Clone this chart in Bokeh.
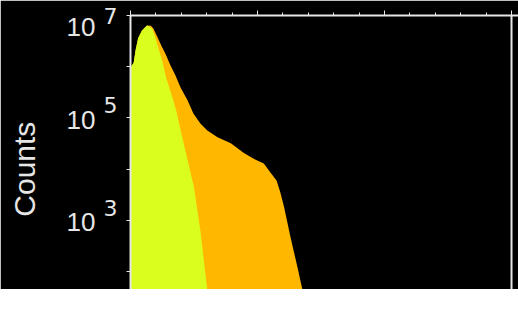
from bokeh.plotting import figure
from bokeh.models import Range1d, FixedTicker, LogAxis, Span
from bokeh.embed import file_html
from bokeh.resources import INLINE

# Channel positions and counts for the two spectra
channel_yellow = [0, 2.5, 4, 6, 9, 13, 17, 20, 22, 25, 28, 33, 36, 39.5, 45, 50, 55, 60.5, 66]
counts_yellow = [9.7e5, 1.2e6, 2.1e6, 3.6e6, 5.1e6, 6.4e6, 5.6e6, 3.4e6, 2.3e6, 1.3e6,
                 6.2e5, 2.5e5, 1.4e5, 5.7e4, 1.5e4, 4.4e3, 640, 43, 2]

channel_orange = [0, 2.5, 4, 6, 9, 13, 16, 18, 21, 24.5, 27.5, 31.5, 35.5, 39.5, 45, 49.5,
                  55, 60.5, 68.5, 79, 89, 97, 105, 110, 115, 118, 121, 126, 131.5, 135.5,
                  142, 148]
counts_orange = [9.7e5, 1.2e6, 2.1e6, 3.6e6, 5.1e6, 6.4e6, 6.3e6, 5.6e6, 3.9e6, 2.5e6,
                 1.8e6, 1.06e6, 6.7e5, 3.9e5, 2.2e5, 1.22e5, 7.8e4, 5.7e4, 4.2e4, 3.2e4,
                 2.1e4, 1.6e4, 1.3e4, 8.7e3, 6.0e3, 3.5e3, 1.8e3, 470, 121, 43, 7, 1]

x_major = [0, 100, 200, 300]
decades = [1e1, 1e2, 1e3, 1e4, 1e5, 1e6, 1e7]
labelled_decades = [1e7, 1e5, 1e3]
exponents = ["7", "5", "3"]
axis_title = "Counts\u00a0\u00a0\u00a0\u00a0"

AX = "#e6e6e6"
FONT = "Liberation Sans"
PX_PER_DECADE = 51.25


def shifted(value, px):
    """Value that sits px pixels below `value` on the log axis (3 significant figures)."""
    v = value * 10 ** (-px / PX_PER_DECADE)
    return float(f"{v:.3g}")


# label anchors: exponents raised above their ticks, bases near the ticks
# (the top base pushed down to stay on the canvas)
exp_anchor = [shifted(d, 0 if d == 1e7 else -13) for d in labelled_decades]
base_anchor = [shifted(d, 11 if d == 1e7 else 2) for d in labelled_decades]

p = figure(width=518, height=289, y_axis_type="log",
           x_range=Range1d(0, 305.5), y_range=Range1d(45, 1e7),
           x_axis_location="above", output_backend="svg", toolbar_location=None,
           min_border_left=130, min_border_right=0, min_border_top=15,
           min_border_bottom=0, background_fill_color="black",
           border_fill_color="black", outline_line_color=None)
p.grid.visible = False

# spectra: orange behind, yellow in front
p.varea(x=channel_orange, y1=[1] * len(channel_orange), y2=counts_orange,
        fill_color="#FFB700")
p.varea(x=channel_yellow, y1=[1] * len(channel_yellow), y2=counts_yellow,
        fill_color="#DAFF1F")

# top axis: ticks only
xa = p.xaxis[0]
xa.ticker = FixedTicker(ticks=x_major, minor_ticks=[20 * i for i in range(16)])
xa.axis_line_color = AX
xa.axis_line_width = 2
xa.major_tick_line_color = AX
xa.minor_tick_line_color = AX
xa.major_tick_in = 0
xa.major_tick_out = 5
xa.minor_tick_in = 0
xa.minor_tick_out = 3
xa.major_label_overrides = {v: "" for v in x_major}
xa.major_label_standoff = 0

# left axis line with a tick at every decade
ya = p.yaxis[0]
ya.ticker = FixedTicker(ticks=decades, minor_ticks=[])
ya.axis_line_color = AX
ya.axis_line_width = 2
ya.major_tick_line_color = AX
ya.major_tick_in = 0
ya.major_tick_out = 4
ya.major_label_overrides = {v: "" for v in decades}
ya.major_label_standoff = 0


def label_axis(anchors, texts, font, size, standoff):
    ax = LogAxis(ticker=FixedTicker(ticks=anchors, minor_ticks=[]))
    ax.axis_line_color = None
    ax.major_tick_line_color = None
    ax.major_tick_in = 0
    ax.major_tick_out = 0
    ax.major_label_overrides = dict(zip(anchors, texts))
    ax.major_label_standoff = standoff
    ax.major_label_text_font = font
    ax.major_label_text_font_size = size
    ax.major_label_text_color = AX
    return ax


# raised exponents, then the "10" bases and the title further out
exp_axis = label_axis(exp_anchor, exponents, "DejaVu Sans", "22px", 9)
p.add_layout(exp_axis, "left")

base_axis = label_axis(base_anchor, ["10"] * len(base_anchor), FONT, "26px", 5)
base_axis.axis_label = axis_title
base_axis.axis_label_text_font = FONT
base_axis.axis_label_text_font_size = "30px"
base_axis.axis_label_text_font_style = "normal"
base_axis.axis_label_text_color = AX
base_axis.axis_label_standoff = 23
p.add_layout(base_axis, "left")

# right frame line
p.add_layout(Span(location=300, dimension="height", line_color=AX, line_width=2))

open("out.html", "w").write(file_html(p, INLINE))
